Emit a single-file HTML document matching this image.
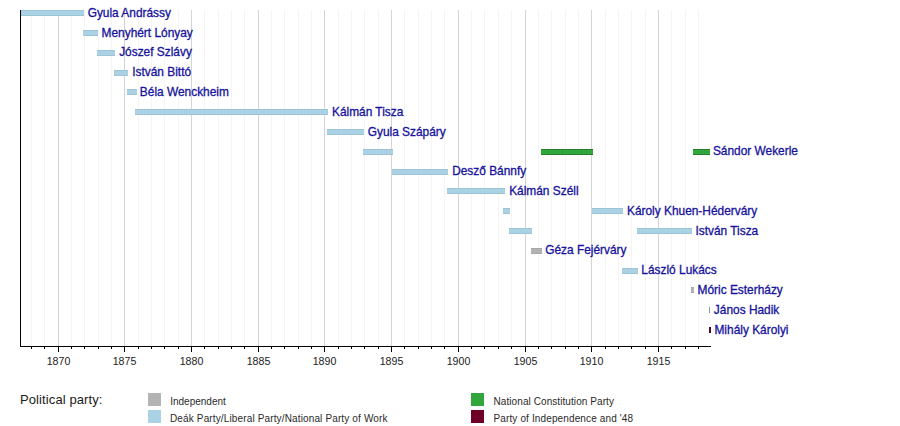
<!DOCTYPE html>
<html><head><meta charset="utf-8"><title>Prime Ministers of Hungary timeline</title>
<style>
html,body{margin:0;padding:0;background:#fff;}
body{width:900px;height:426px;position:relative;overflow:hidden;font-family:"Liberation Sans",Arial,sans-serif;}
.a{position:absolute;}
.gm{position:absolute;top:10px;height:336px;width:1px;background:#f4f4f4;}
.gM{position:absolute;top:10px;height:336px;width:1px;background:#d4d4d4;}
.b{position:absolute;height:6px;box-shadow:inset 0 1px rgba(0,40,40,.08),inset 0 -1px rgba(0,40,40,.08);}
.bg{box-shadow:inset 0 1px rgba(0,30,0,.28),inset 0 -1px rgba(0,30,0,.28);}
.l{position:absolute;font-size:11.9px;line-height:14px;color:#16129c;white-space:nowrap;-webkit-text-stroke:0.3px #16129c;}
.t{position:absolute;width:1px;background:#000;}
.yl{position:absolute;font-size:10.6px;line-height:12px;color:#222;width:40px;text-align:center;}
.lg{position:absolute;font-size:10px;line-height:12px;color:#2a2a2a;white-space:nowrap;}
.sw{position:absolute;width:13px;height:12.5px;}
</style></head><body>

<div class="gm" style="left:31px"></div>
<div class="gm" style="left:44px"></div>
<div class="gM" style="left:58px"></div>
<div class="gm" style="left:71px"></div>
<div class="gm" style="left:84px"></div>
<div class="gm" style="left:98px"></div>
<div class="gm" style="left:111px"></div>
<div class="gM" style="left:124px"></div>
<div class="gm" style="left:138px"></div>
<div class="gm" style="left:151px"></div>
<div class="gm" style="left:164px"></div>
<div class="gm" style="left:178px"></div>
<div class="gM" style="left:191px"></div>
<div class="gm" style="left:204px"></div>
<div class="gm" style="left:218px"></div>
<div class="gm" style="left:231px"></div>
<div class="gm" style="left:244px"></div>
<div class="gM" style="left:258px"></div>
<div class="gm" style="left:271px"></div>
<div class="gm" style="left:284px"></div>
<div class="gm" style="left:298px"></div>
<div class="gm" style="left:311px"></div>
<div class="gM" style="left:324px"></div>
<div class="gm" style="left:338px"></div>
<div class="gm" style="left:351px"></div>
<div class="gm" style="left:364px"></div>
<div class="gm" style="left:378px"></div>
<div class="gM" style="left:391px"></div>
<div class="gm" style="left:404px"></div>
<div class="gm" style="left:418px"></div>
<div class="gm" style="left:431px"></div>
<div class="gm" style="left:444px"></div>
<div class="gM" style="left:458px"></div>
<div class="gm" style="left:471px"></div>
<div class="gm" style="left:484px"></div>
<div class="gm" style="left:498px"></div>
<div class="gm" style="left:511px"></div>
<div class="gM" style="left:525px"></div>
<div class="gm" style="left:538px"></div>
<div class="gm" style="left:551px"></div>
<div class="gm" style="left:565px"></div>
<div class="gm" style="left:578px"></div>
<div class="gM" style="left:591px"></div>
<div class="gm" style="left:605px"></div>
<div class="gm" style="left:618px"></div>
<div class="gm" style="left:631px"></div>
<div class="gm" style="left:645px"></div>
<div class="gM" style="left:658px"></div>
<div class="gm" style="left:671px"></div>
<div class="gm" style="left:685px"></div>
<div class="gm" style="left:698px"></div>
<div class="b" style="left:20.00px;top:10.20px;width:64.00px;background:#aad2e4"></div>
<div class="l" style="left:87.65px;top:5.80px">Gyula Andrássy</div>
<div class="b" style="left:83.40px;top:30.00px;width:14.90px;background:#aad2e4"></div>
<div class="l" style="left:101.57px;top:25.60px">Menyhért Lónyay</div>
<div class="b" style="left:97.10px;top:49.80px;width:17.90px;background:#aad2e4"></div>
<div class="l" style="left:119.16px;top:45.40px">Jószef Szlávy</div>
<div class="b" style="left:114.20px;top:69.60px;width:13.80px;background:#aad2e4"></div>
<div class="l" style="left:132.25px;top:65.20px">István Bittó</div>
<div class="b" style="left:127.40px;top:89.40px;width:9.20px;background:#aad2e4"></div>
<div class="l" style="left:139.87px;top:85.00px">Béla Wenckheim</div>
<div class="b" style="left:135.20px;top:109.20px;width:192.60px;background:#aad2e4"></div>
<div class="l" style="left:331.97px;top:104.80px">Kálmán Tisza</div>
<div class="b" style="left:327.10px;top:129.00px;width:37.10px;background:#aad2e4"></div>
<div class="l" style="left:367.75px;top:124.60px">Gyula Szápáry</div>
<div class="b" style="left:363.00px;top:148.80px;width:29.90px;background:#aad2e4"></div>
<div class="b bg" style="left:541.10px;top:148.80px;width:51.80px;background:#31a63d"></div>
<div class="b bg" style="left:692.90px;top:148.80px;width:16.90px;background:#31a63d"></div>
<div class="l" style="left:712.91px;top:144.40px">Sándor Wekerle</div>
<div class="b" style="left:391.70px;top:168.60px;width:56.20px;background:#aad2e4"></div>
<div class="l" style="left:452.17px;top:164.20px">Desző Bánnfy</div>
<div class="b" style="left:447.10px;top:188.40px;width:57.70px;background:#aad2e4"></div>
<div class="l" style="left:509.17px;top:184.00px">Kálmán Széll</div>
<div class="b" style="left:502.90px;top:208.20px;width:7.10px;background:#aad2e4"></div>
<div class="b" style="left:591.60px;top:208.20px;width:31.50px;background:#aad2e4"></div>
<div class="l" style="left:626.97px;top:203.80px">Károly Khuen-Héderváry</div>
<div class="b" style="left:508.80px;top:228.00px;width:23.20px;background:#aad2e4"></div>
<div class="b" style="left:636.80px;top:228.00px;width:54.90px;background:#aad2e4"></div>
<div class="l" style="left:695.45px;top:223.60px">István Tisza</div>
<div class="b" style="left:531.00px;top:247.80px;width:10.90px;background:#b3b3b3"></div>
<div class="l" style="left:545.25px;top:243.40px">Géza Fejérváry</div>
<div class="b" style="left:622.00px;top:267.60px;width:16.10px;background:#aad2e4"></div>
<div class="l" style="left:641.37px;top:263.20px">László Lukács</div>
<div class="b" style="left:690.60px;top:287.40px;width:3.60px;background:#b3b3b3"></div>
<div class="l" style="left:697.57px;top:283.00px">Móric Esterházy</div>
<div class="b" style="left:708.90px;top:307.20px;width:1.10px;background:#7fa39c"></div>
<div class="l" style="left:713.86px;top:302.80px">János Hadik</div>
<div class="b" style="left:708.90px;top:327.00px;width:2.30px;background:#4e0a22"></div>
<div class="l" style="left:714.47px;top:322.60px">Mihály Károlyi</div>
<div class="a" style="left:20px;top:10px;width:1px;height:337px;background:#000"></div>
<div class="a" style="left:20px;top:346px;width:691px;height:1px;background:#000"></div>
<div class="t" style="left:31px;top:346px;height:3px"></div>
<div class="t" style="left:44px;top:346px;height:3px"></div>
<div class="t" style="left:58px;top:346px;height:6px"></div>
<div class="yl" style="left:38.50px;top:354.7px">1870</div>
<div class="t" style="left:71px;top:346px;height:3px"></div>
<div class="t" style="left:84px;top:346px;height:3px"></div>
<div class="t" style="left:98px;top:346px;height:3px"></div>
<div class="t" style="left:111px;top:346px;height:3px"></div>
<div class="t" style="left:124px;top:346px;height:6px"></div>
<div class="yl" style="left:104.50px;top:354.7px">1875</div>
<div class="t" style="left:138px;top:346px;height:3px"></div>
<div class="t" style="left:151px;top:346px;height:3px"></div>
<div class="t" style="left:164px;top:346px;height:3px"></div>
<div class="t" style="left:178px;top:346px;height:3px"></div>
<div class="t" style="left:191px;top:346px;height:6px"></div>
<div class="yl" style="left:171.50px;top:354.7px">1880</div>
<div class="t" style="left:204px;top:346px;height:3px"></div>
<div class="t" style="left:218px;top:346px;height:3px"></div>
<div class="t" style="left:231px;top:346px;height:3px"></div>
<div class="t" style="left:244px;top:346px;height:3px"></div>
<div class="t" style="left:258px;top:346px;height:6px"></div>
<div class="yl" style="left:238.50px;top:354.7px">1885</div>
<div class="t" style="left:271px;top:346px;height:3px"></div>
<div class="t" style="left:284px;top:346px;height:3px"></div>
<div class="t" style="left:298px;top:346px;height:3px"></div>
<div class="t" style="left:311px;top:346px;height:3px"></div>
<div class="t" style="left:324px;top:346px;height:6px"></div>
<div class="yl" style="left:304.50px;top:354.7px">1890</div>
<div class="t" style="left:338px;top:346px;height:3px"></div>
<div class="t" style="left:351px;top:346px;height:3px"></div>
<div class="t" style="left:364px;top:346px;height:3px"></div>
<div class="t" style="left:378px;top:346px;height:3px"></div>
<div class="t" style="left:391px;top:346px;height:6px"></div>
<div class="yl" style="left:371.50px;top:354.7px">1895</div>
<div class="t" style="left:404px;top:346px;height:3px"></div>
<div class="t" style="left:418px;top:346px;height:3px"></div>
<div class="t" style="left:431px;top:346px;height:3px"></div>
<div class="t" style="left:444px;top:346px;height:3px"></div>
<div class="t" style="left:458px;top:346px;height:6px"></div>
<div class="yl" style="left:438.50px;top:354.7px">1900</div>
<div class="t" style="left:471px;top:346px;height:3px"></div>
<div class="t" style="left:484px;top:346px;height:3px"></div>
<div class="t" style="left:498px;top:346px;height:3px"></div>
<div class="t" style="left:511px;top:346px;height:3px"></div>
<div class="t" style="left:525px;top:346px;height:6px"></div>
<div class="yl" style="left:505.50px;top:354.7px">1905</div>
<div class="t" style="left:538px;top:346px;height:3px"></div>
<div class="t" style="left:551px;top:346px;height:3px"></div>
<div class="t" style="left:565px;top:346px;height:3px"></div>
<div class="t" style="left:578px;top:346px;height:3px"></div>
<div class="t" style="left:591px;top:346px;height:6px"></div>
<div class="yl" style="left:571.50px;top:354.7px">1910</div>
<div class="t" style="left:605px;top:346px;height:3px"></div>
<div class="t" style="left:618px;top:346px;height:3px"></div>
<div class="t" style="left:631px;top:346px;height:3px"></div>
<div class="t" style="left:645px;top:346px;height:3px"></div>
<div class="t" style="left:658px;top:346px;height:6px"></div>
<div class="yl" style="left:638.50px;top:354.7px">1915</div>
<div class="t" style="left:671px;top:346px;height:3px"></div>
<div class="t" style="left:685px;top:346px;height:3px"></div>
<div class="t" style="left:698px;top:346px;height:3px"></div>
<div class="a" style="left:20px;top:392px;font-size:13px;line-height:15px;color:#1a1a1a;letter-spacing:0.1px">Political party:</div>
<div class="sw" style="left:147.7px;top:393.3px;background:#b3b3b3"></div>
<div class="sw" style="left:147.7px;top:410.4px;background:#aad2e4"></div>
<div class="sw" style="left:471.2px;top:393.3px;background:#31a63d"></div>
<div class="sw" style="left:471.2px;top:410.3px;background:#6e0028"></div>
<div class="lg" style="left:170.2px;top:395.9px">Independent</div>
<div class="lg" style="left:170px;top:412.9px;letter-spacing:0.14px">Deák Party/Liberal Party/National Party of Work</div>
<div class="lg" style="left:493.5px;top:395.9px;letter-spacing:0.08px">National Constitution Party</div>
<div class="lg" style="left:493.5px;top:412.9px;letter-spacing:0.13px">Party of Independence and '48</div>
</body></html>
